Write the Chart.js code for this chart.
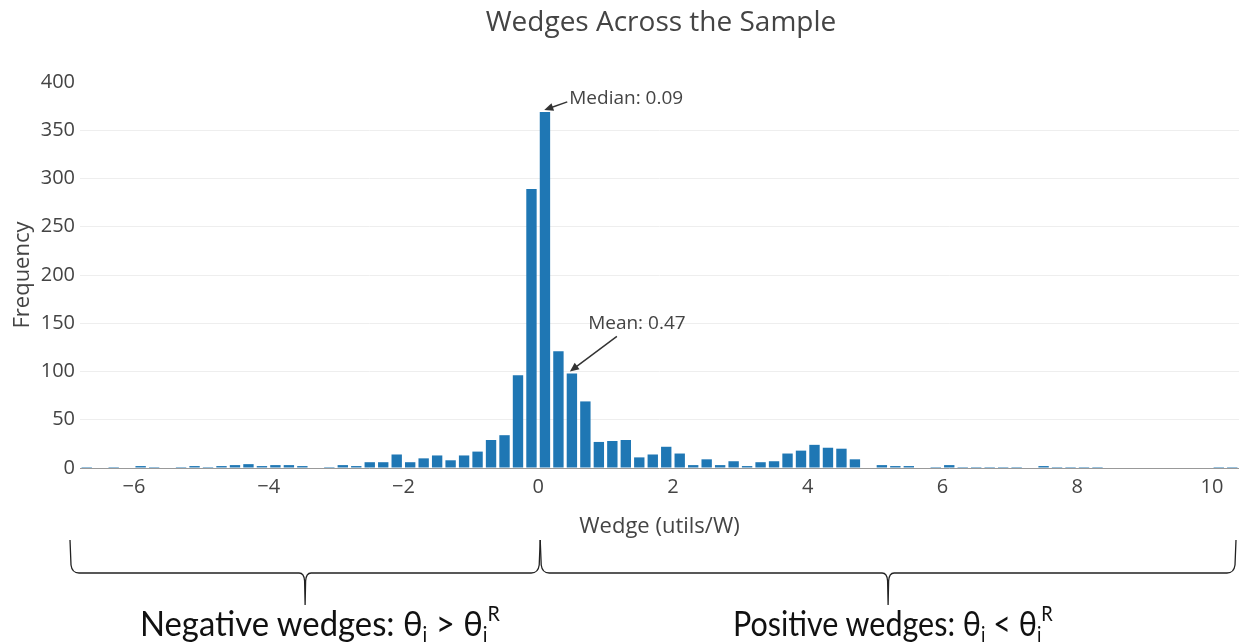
<!DOCTYPE html>
<html>
<head>
<meta charset="utf-8">
<script src="https://cdn.jsdelivr.net/npm/chart.js@4"></script>
<style>
  html, body { margin: 0; padding: 0; background: #fff; }
  #wrap { position: relative; width: 1239px; height: 644px; overflow: hidden; }
  .brace-label {
    position: absolute; top: 605px;
    font-family: Lato, 'Open Sans', sans-serif; font-size: 34px; color: #111;
    white-space: nowrap; line-height: 36px; transform-origin: left top;
  }
  .brace-label sub { font-size: 60%; vertical-align: -0.3em; line-height: 0; }
  .brace-label sup { font-size: 60%; vertical-align: 0.75em; line-height: 0; }
</style>
</head>
<body>
<div id="wrap">
  <canvas id="wedge-chart" width="1239" height="644"></canvas>
  <div class="brace-label" id="neg-label" style="left:140px">Negative wedges: θ<sub>i</sub> &gt; θ<sub>i</sub><sup>R</sup></div>
  <div class="brace-label" id="pos-label" style="left:733px">Positive wedges: θ<sub>i</sub> &lt; θ<sub>i</sub><sup>R</sup></div>
</div>
<script>
const chartTitle = 'Wedges Across the Sample';
const xTitle = 'Wedge (utils/W)';
const yTitle = 'Frequency';

// histogram bins, width 0.2
const binCenters = [
  -6.7, -6.5, -6.3, -6.1, -5.9, -5.7, -5.5, -5.3, -5.1, -4.9,
  -4.7, -4.5, -4.3, -4.1, -3.9, -3.7, -3.5, -3.3, -3.1, -2.9,
  -2.7, -2.5, -2.3, -2.1, -1.9, -1.7, -1.5, -1.3, -1.1, -0.9,
  -0.7, -0.5, -0.3, -0.1, 0.1, 0.3, 0.5, 0.7, 0.9, 1.1,
  1.3, 1.5, 1.7, 1.9, 2.1, 2.3, 2.5, 2.7, 2.9, 3.1,
  3.3, 3.5, 3.7, 3.9, 4.1, 4.3, 4.5, 4.7, 4.9, 5.1,
  5.3, 5.5, 5.7, 5.9, 6.1, 6.3, 6.5, 6.7, 6.9, 7.1,
  7.3, 7.5, 7.7, 7.9, 8.1, 8.3, 8.5, 8.7, 8.9, 9.1,
  9.3, 9.5, 9.7, 9.9, 10.1, 10.3
];
const frequencies = [
  1, 0, 1, 0, 2, 1, 0, 1, 2, 1,
  2, 3, 4, 2, 3, 3, 2, 0, 1, 3,
  2, 6, 6, 14, 6, 10, 13, 8, 13, 17,
  29, 34, 96, 289, 369, 121, 98, 69, 27, 28,
  29, 11, 14, 22, 15, 3, 9, 3, 7, 2,
  6, 7, 15, 18, 24, 21, 20, 9, 0, 3,
  2, 2, 0, 1, 3, 1, 1, 1, 1, 1,
  0, 2, 1, 1, 1, 1, 0, 0, 0, 0,
  0, 0, 0, 0, 1, 1
];

const xRange = [-6.8, 10.4];
const xTicks = [-6, -4, -2, 0, 2, 4, 6, 8, 10];
const yRange = [0, 400];

const noteLabels = ['Median: 0.09', 'Mean: 0.47'];
const noteX = [0.09, 0.47];
const noteY = [369, 98];

const ink = '#444';
const font = "'Open Sans', sans-serif";

// tail offset from arrow tip, and text offset from tail
const noteStyle = [
  { tail: [23, -8], text: [2, -3], align: 'left' },
  { tail: [47, -35], text: [20, -13], align: 'center' }
];

function drawArrow(ctx, x0, y0, x1, y1) {
  const a = Math.atan2(y1 - y0, x1 - x0);
  ctx.beginPath();
  ctx.moveTo(x0, y0);
  ctx.lineTo(x1 - 6 * Math.cos(a), y1 - 6 * Math.sin(a));
  ctx.stroke();
  ctx.beginPath();
  ctx.moveTo(x1, y1);
  ctx.lineTo(x1 - 9 * Math.cos(a) + 4 * Math.sin(a), y1 - 9 * Math.sin(a) - 4 * Math.cos(a));
  ctx.lineTo(x1 - 9 * Math.cos(a) - 4 * Math.sin(a), y1 - 9 * Math.sin(a) + 4 * Math.cos(a));
  ctx.closePath();
  ctx.fill();
}

function drawBrace(ctx, left, right, top, bar, tip) {
  const mid = (left + right) / 2;
  ctx.beginPath();
  ctx.moveTo(left, top);
  ctx.lineTo(left + 1, bar - 8);
  ctx.quadraticCurveTo(left + 2, bar, left + 9, bar);
  ctx.lineTo(mid - 6, bar);
  ctx.quadraticCurveTo(mid - 1, bar, mid - 0.5, bar + 8);
  ctx.lineTo(mid, tip);
  ctx.lineTo(mid + 0.5, bar + 8);
  ctx.quadraticCurveTo(mid + 1, bar, mid + 6, bar);
  ctx.lineTo(right - 9, bar);
  ctx.quadraticCurveTo(right - 2, bar, right - 1, bar - 8);
  ctx.lineTo(right, top);
  ctx.stroke();
}

const overlay = {
  id: 'overlay',
  afterDraw(chart) {
    const { ctx, chartArea, scales: { x, y } } = chart;
    ctx.save();

    ctx.fillStyle = ink;
    ctx.font = '28px ' + font;
    ctx.textAlign = 'center';
    ctx.textBaseline = 'middle';
    ctx.fillText(chartTitle, 661, 23);

    ctx.font = '19px ' + font;
    ctx.strokeStyle = '#333';
    ctx.fillStyle = '#333';
    ctx.lineWidth = 1.5;
    noteLabels.forEach((label, i) => {
      const s = noteStyle[i];
      const tipX = x.getPixelForValue(noteX[i]);
      const tipY = y.getPixelForValue(noteY[i]) - 2;
      const tailX = tipX + s.tail[0], tailY = tipY + s.tail[1];
      drawArrow(ctx, tailX, tailY, tipX, tipY);
      ctx.fillStyle = ink;
      ctx.textAlign = s.align;
      ctx.fillText(label, tailX + s.text[0], tailY + s.text[1]);
      ctx.fillStyle = '#333';
    });

    // braces under the axis
    ctx.strokeStyle = '#222';
    ctx.lineWidth = 1.3;
    const zero = x.getPixelForValue(0) + 2;
    drawBrace(ctx, chartArea.left - 10, zero, 540, 573, 605);
    drawBrace(ctx, zero, chartArea.right - 3, 540, 573, 605);

    ctx.restore();
  }
};

const ctx = document.getElementById('wedge-chart');

new Chart(ctx, {
  type: 'bar',
  data: {
    datasets: [{
      data: binCenters.map((c, i) => ({ x: c, y: frequencies[i] })),
      backgroundColor: '#1f77b4',
      borderWidth: 0,
      categoryPercentage: 1,
      barPercentage: 0.77
    }]
  },
  options: {
    responsive: false,
    animation: false,
    layout: { padding: { top: 82, bottom: 104, left: 0, right: 0 } },
    scales: {
      x: {
        type: 'linear',
        offset: false,
        min: xRange[0],
        max: xRange[1],
        afterBuildTicks: (scale) => { scale.ticks = xTicks.map((v) => ({ value: v })); },
        afterFit: (scale) => { scale.height = 72; },
        grid: { display: false, drawTicks: false, tickLength: 0 },
        border: { display: false },
        ticks: {
          color: ink,
          padding: 7,
          maxRotation: 0,
          font: { family: font, size: 20 },
          callback: (v) => (v < 0 ? '\u2212' + Math.abs(v) : String(v))
        },
        title: {
          display: true,
          text: xTitle,
          color: ink,
          padding: { top: 0, bottom: 0 },
          font: { family: font, size: 22 }
        }
      },
      y: {
        min: yRange[0],
        max: yRange[1],
        afterFit: (scale) => { scale.width = 80; },
        grid: {
          drawTicks: false,
          tickLength: 0,
          color: (c) => (c.tick.value === 0 ? '#999' : c.tick.value === 400 ? 'rgba(0,0,0,0)' : '#eee'),
          lineWidth: 1
        },
        border: { display: false },
        ticks: {
          stepSize: 50,
          color: ink,
          padding: 5,
          font: { family: font, size: 20 }
        },
        title: {
          display: true,
          text: yTitle,
          color: ink,
          padding: { top: 10, bottom: 0 },
          font: { family: font, size: 22 }
        }
      }
    },
    plugins: {
      legend: { display: false },
      title: { display: false },
      tooltip: { enabled: false }
    }
  },
  plugins: [overlay]
});

// squeeze the brace captions to the width they take in the figure
const fitLabel = (id, width) => {
  const el = document.getElementById(id);
  el.style.transform = 'scaleX(' + (width / el.offsetWidth) + ')';
};
fitLabel('neg-label', 360);
fitLabel('pos-label', 320);
</script>
</body>
</html>
